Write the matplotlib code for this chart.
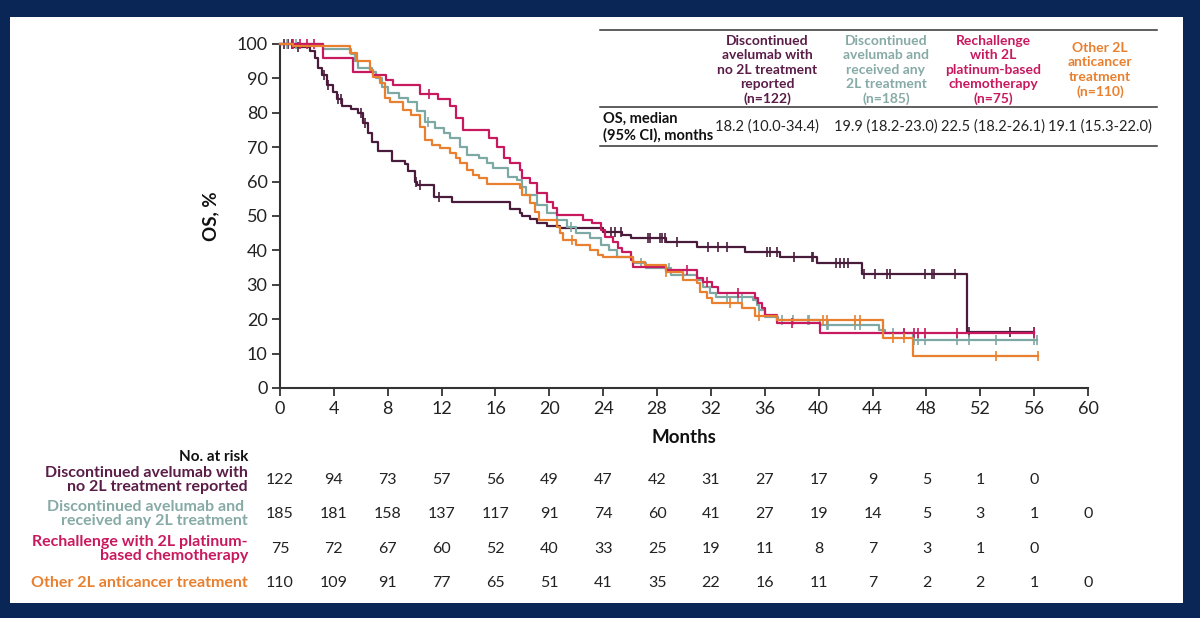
import numpy as np
import matplotlib
matplotlib.use("Agg")
import matplotlib.pyplot as plt
from matplotlib.patches import Rectangle
from matplotlib.transforms import blended_transform_factory

plt.rcParams['font.family'] = ['Lato', 'DejaVu Sans']

# --- data ---
# step times (months) and survival (%) after each step
no2l_t = [0, 1.0, 2.2, 2.6, 2.8, 3.1, 3.5, 3.9, 4.2, 4.6, 5.3, 5.8, 6.2, 6.5, 6.8, 7.3, 8.3, 9.3, 9.5,
          10.0, 10.2, 11.4, 12.8, 17.1, 17.8, 18.0, 18.6, 19.1, 19.8, 20.8, 24.0, 25.4, 26.1, 28.7,
          31.0, 34.5, 37.1, 39.9, 43.2, 51.0]
no2l_s = [100, 99, 98, 96, 93, 91, 88, 86, 84, 82, 81, 80, 77, 74, 71.5, 69, 66, 65, 63,
          60, 59, 55.5, 54, 52, 51, 50, 49, 48, 47, 46.5, 45.3, 44.5, 43.6, 42.4,
          41, 39.5, 38, 36.3, 33.2, 16.3]
no2l_cens = [0.3, 0.6, 0.9, 1.3, 3.3, 3.6, 4.3, 4.5, 6.0, 6.3, 10.1, 10.4, 11.8, 24.6, 24.9, 25.3,
             27.3, 27.5, 28.2, 28.4, 28.6, 29.5, 31.8, 32.5, 33.2, 36.2, 36.4, 36.9, 38.2, 39.5,
             39.6, 41.3, 41.6, 41.9, 42.2, 43.4, 44.2, 45.1, 45.3, 47.9, 48.4, 48.6, 50.1, 51.2,
             54.2, 56.0]
no2l_end = 56.0

any2l_t = [0, 3.2, 5.3, 5.6, 5.8, 6.8, 7.1, 7.6, 8.0, 8.8, 9.5, 10.2, 10.8, 11.5, 12.2, 12.6, 13.4,
           13.9, 14.8, 15.4, 15.8, 16.9, 17.6, 18.0, 18.3, 19.1, 19.8, 20.6, 21.3, 22.0, 23.0, 23.8,
           24.4, 25.0, 26.2, 27.2, 29.0, 31.0, 31.4, 31.9, 32.4, 35.1, 35.4, 35.6, 36.0, 37.0,
           40.1, 44.5, 44.9, 47.0]
any2l_s = [100, 98.5, 97, 95, 93, 92, 90, 87.5, 85.8, 84.3, 83, 80.5, 77.3, 75.6, 74, 72.7, 70,
           67.7, 66.9, 65.4, 64, 61.3, 60.5, 58.4, 56, 53.2, 50.9, 48.8, 46.8, 45, 43.6, 41.6,
           40, 38, 36.3, 34.9, 32.8, 31.4, 29.4, 27.6, 26.5, 25.6, 24.1, 22.7, 20.6, 19.8,
           18.3, 16.9, 16, 14]
any2l_cens = [0.5, 1.2, 11.0, 21.6, 26.8, 28.9, 33.2, 34.0, 34.3, 37.3, 38.1, 39.2, 39.3, 40.6,
              40.7, 42.7, 43.1, 45.5, 46.3, 47.1, 47.4, 47.9, 50.3, 51.2, 53.2, 56.0, 56.2]
any2l_end = 56.2

rechal_t = [0, 3.2, 5.4, 6.9, 7.9, 8.4, 10.4, 11.7, 12.6, 13.1, 13.6, 15.5, 16.1, 16.6, 17.1, 17.8,
            18.0, 18.6, 19.1, 19.8, 20.3, 20.6, 22.5, 23.2, 23.8, 24.1, 24.7, 25.1, 25.4, 26.1,
            26.2, 28.7, 31.0, 31.4, 32.1, 32.5, 35.3, 35.5, 35.8, 36.0, 36.9, 40.1]
rechal_s = [100, 96, 92, 91, 89.5, 88, 85.5, 84, 82, 78.5, 75, 72.7, 70, 67, 65.4, 63.4,
            61, 59.6, 56.7, 54, 52.3, 50.3, 48.8, 48, 46, 44, 42.4, 40.7, 39.5, 37.2,
            35.2, 34.3, 32, 30.8, 29.4, 27.6, 26.2, 24.7, 23.3, 21.2, 18.9, 16]
rechal_cens = [1.0, 1.5, 2.0, 2.5, 11.1, 30.2, 31.7, 34.0, 38.0, 46.3, 47.1, 47.4, 47.9, 50.3, 56.0]
rechal_end = 56.0

other_t = [0, 1.0, 5.2, 5.7, 6.7, 6.9, 7.4, 7.8, 8.2, 9.1, 9.7, 10.4, 10.8, 11.3, 11.9, 12.6, 13.1,
           13.4, 13.9, 14.3, 14.8, 15.4, 17.8, 18.0, 18.6, 18.9, 19.2, 20.6, 20.8, 21.0, 22.0,
           23.0, 23.6, 24.0, 26.2, 27.1, 28.7, 29.9, 31.0, 31.2, 31.7, 32.1, 34.3, 35.3, 36.9,
           44.8, 47.0]
other_s = [100, 99.5, 97.4, 95, 92.4, 90.4, 88.7, 84.3, 83, 80.8, 79.4, 75.9, 72, 70.6, 69.8, 68.3,
           66.9, 65.4, 63.4, 62, 61, 59.4, 58, 56, 53.8, 51.2, 48.8, 46.8, 45, 43, 41.6,
           40, 38.7, 38, 36.6, 35.8, 33.7, 31.4, 30.5, 28, 26.2, 24.7, 23.3, 21, 19.8,
           14.5, 9.3]
other_cens = [21.7, 28.7, 33.4, 35.6, 40.3, 40.6, 42.7, 43.1, 45.5, 46.3, 53.2, 56.3]
other_end = 56.3

medians = ["18.2 (10.0-34.4)", "19.9 (18.2-23.0)", "22.5 (18.2-26.1)", "19.1 (15.3-22.0)"]
headers = ["Discontinued\navelumab with\nno 2L treatment\nreported\n(n=122)",
           "Discontinued\navelumab and\nreceived any\n2L treatment\n(n=185)",
           "Rechallenge\nwith 2L\nplatinum-based\nchemotherapy\n(n=75)",
           "Other 2L\nanticancer\ntreatment\n(n=110)"]
risk_labels = ["Discontinued avelumab with\nno 2L treatment reported",
               "Discontinued avelumab and \nreceived any 2L treatment",
               "Rechallenge with 2L platinum-\nbased chemotherapy",
               "Other 2L anticancer treatment"]
risk_months = list(range(0, 61, 4))
risk_no2l = [122, 94, 73, 57, 56, 49, 47, 42, 31, 27, 17, 9, 5, 1, 0]
risk_any2l = [185, 181, 158, 137, 117, 91, 74, 60, 41, 27, 19, 14, 5, 3, 1, 0]
risk_rechal = [75, 72, 67, 60, 52, 40, 33, 25, 19, 11, 8, 7, 3, 1, 0]
risk_other = [110, 109, 91, 77, 65, 51, 41, 35, 22, 16, 11, 7, 2, 2, 1, 0]

colors = ["#4a1c3c", "#7ea8a4", "#c8195f", "#e8802f"]
text_colors = ["#5a1d47", "#86aaa6", "#c8195f", "#e8802f"]

curves = [(no2l_t, no2l_s, no2l_cens, no2l_end),
          (any2l_t, any2l_s, any2l_cens, any2l_end),
          (rechal_t, rechal_s, rechal_cens, rechal_end),
          (other_t, other_s, other_cens, other_end)]
risks = [risk_no2l, risk_any2l, risk_rechal, risk_other]

# --- figure ---
fig = plt.figure(figsize=(12, 6.18), dpi=100)
fig.patch.set_facecolor("#0a2656")
fig.patches.append(Rectangle((10 / 1200, 1 - 603 / 618), 1173 / 1200, 586 / 618,
                             transform=fig.transFigure, facecolor="white",
                             edgecolor="none", zorder=-10))

ax = fig.add_axes([280 / 1200, 1 - 388 / 618, 808 / 1200, 344 / 618])
ax.set_facecolor("none")
ax.set_zorder(2)

# draw order: orange, teal, magenta, dark on top
for i in [3, 1, 2, 0]:
    t, s, cens, end = curves[i]
    tt = list(t) + [end]
    ss = list(s) + [s[-1]]
    ax.step(tt, ss, where="post", color=colors[i], lw=1.6, clip_on=False, zorder=3 + i)
    ct = np.array(cens)
    idx = np.searchsorted(np.array(t), ct, side="right") - 1
    cs = np.array(s)[idx]
    ax.plot(ct, cs, ls="none", marker="|", ms=7, mew=1.2, color=colors[i],
            clip_on=False, zorder=3 + i)

ax.set_xlim(0, 60)
ax.set_ylim(0, 100)
ax.set_xticks(range(0, 61, 4))
ax.set_yticks(range(0, 101, 10))
for sp in ["top", "right"]:
    ax.spines[sp].set_visible(False)
for sp in ["left", "bottom"]:
    ax.spines[sp].set_color("#333333")
    ax.spines[sp].set_linewidth(1.5)
ax.tick_params(direction="out", length=6, width=1.3, color="#333333",
               labelsize=13, labelcolor="#222222", pad=3)
ax.set_xlabel("Months", fontsize=13.5, fontweight="bold", color="#111111", labelpad=9)
ax.set_ylabel("OS, %", fontsize=13.5, fontweight="bold", color="#111111", labelpad=12)

# --- median table (top right) ---
def fx(px):
    return px / 1200

def fy(py):
    return 1 - py / 618

for y in [30, 107, 146]:
    fig.add_artist(plt.Line2D([fx(600), fx(1157)], [fy(y), fy(y)], color="#333333",
                              lw=1.1, transform=fig.transFigure))
col_x = [767, 886, 993, 1100]
for i in range(4):
    fig.text(fx(col_x[i]), fy(70), headers[i], ha="center", va="center", fontsize=10,
             fontweight="bold", color=text_colors[i], linespacing=1.25)
    fig.text(fx(col_x[i]), fy(127), medians[i], ha="center", va="center", fontsize=10.5,
             color="#222222")
fig.text(fx(603), fy(127), "OS, median\n(95% CI), months", ha="left", va="center",
         fontsize=10.5, fontweight="bold", color="#111111", linespacing=1.15)

# --- number at risk ---
tr = blended_transform_factory(ax.transData, fig.transFigure)
fig.text(fx(248), fy(457), "No. at risk", ha="right", va="center", fontsize=11,
         fontweight="bold", color="#111111")
row_y = [480, 514, 549, 583]
for i in range(4):
    fig.text(fx(248), fy(row_y[i]), risk_labels[i], ha="right", va="center", fontsize=11.5,
             fontweight="bold", color=text_colors[i], linespacing=0.92)
    for m, n in zip(risk_months, risks[i]):
        ax.text(m, fy(row_y[i]), str(n), transform=tr, ha="center", va="center",
                fontsize=11.5, color="#222222")

fig.savefig("out.png", dpi=100, facecolor=fig.get_facecolor())
